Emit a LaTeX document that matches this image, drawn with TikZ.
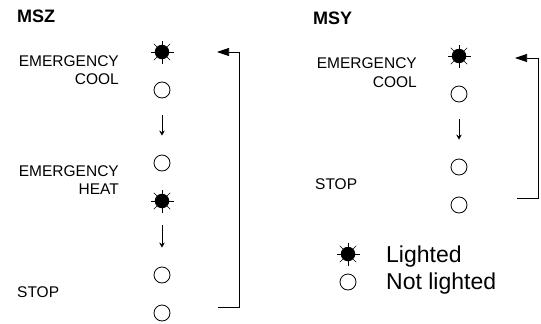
\documentclass[tikz,border=0pt]{standalone}
\usepackage{fontspec}
\setmainfont{Liberation Sans}
\usetikzlibrary{arrows.meta}
\tikzset{
  unlit/.style={circle,draw,line width=0.8pt,minimum size=16pt,inner sep=0pt},
  lit/.style={circle,fill,minimum size=14.5pt,inner sep=0pt},
  label/.style={inner sep=0pt,font=\fontsize{15.5}{19}\selectfont},
  title/.style={inner sep=0pt,font=\fontsize{18}{22}\selectfont\bfseries},
  legend/.style={inner sep=0pt,font=\fontsize{23}{27}\selectfont},
  flowarrow/.style={-{Stealth[length=5pt,width=5.5pt]},line width=0.7pt,
    shorten <=17pt,shorten >=19pt},
  looparrow/.style={-{Triangle[length=12pt,width=8pt]},line width=0.7pt}
}
\begin{document}
\begin{tikzpicture}[x=1pt,y=-1pt]
      \useasboundingbox (0,0) rectangle (541,324);
      % MSZ
      \node[title,anchor=base west] (msz) at (17,22) {MSZ};
      \node[label,anchor=base east] (zemc) at (119,66) {EMERGENCY};
      \node[label,anchor=base east] (zcool) at (119,84) {COOL};
      \node[label,anchor=base east] (zemh) at (119,176) {EMERGENCY};
      \node[label,anchor=base east] (zheat) at (119,194) {HEAT};
      \node[label,anchor=base west] (zstop) at (17,297) {STOP};
      \draw
        (162,52) node[lit] (z1){}
        (162,90) node[unlit] (z2){}
        (162,163) node[unlit] (z3){}
        (162,201) node[lit] (z4){}
        (162,275) node[unlit] (z5){}
        (162,313) node[unlit] (z6){};
      \draw[flowarrow] (z2) -- (z3);
      \draw[flowarrow] (z4) -- (z5);
      \coordinate (zb) at (218,307);
      \coordinate (zbr) at (239,307);
      \coordinate (ztr) at (239,52);
      \coordinate (zt) at (217,52);
      \draw[looparrow] (zb) -- (zbr) -- (ztr) -- (zt);
      % MSY
      \node[title,anchor=base west] (msy) at (313,24) {MSY};
      \node[label,anchor=base east] (yemc) at (417,68) {EMERGENCY};
      \node[label,anchor=base east] (ycool) at (417,87) {COOL};
      \node[label,anchor=base west] (ystop) at (315,189) {STOP};
      \draw
        (459,56) node[lit] (y1){}
        (459,94) node[unlit] (y2){}
        (459,167) node[unlit] (y3){}
        (459,205) node[unlit] (y4){};
      \draw[flowarrow] (y2) -- (y3);
      \coordinate (yb) at (517,198);
      \coordinate (ybr) at (538,198);
      \coordinate (ytr) at (538,58);
      \coordinate (yt) at (515,58);
      \draw[looparrow] (yb) -- (ybr) -- (ytr) -- (yt);
      % legend
      \draw
        (348,254) node[lit] (leglit){}
        (348,282) node[unlit] (legunlit){};
      \node[legend,anchor=base west] (leglittext) at (386,262) {Lighted};
      \node[legend,anchor=base west] (legunlittext) at (386,289) {Not lighted};
      % rays
      \foreach \n in {z1,z4,y1,leglit}
        \foreach \a in {0,45,...,315}
          \draw[line width=0.6pt] ([shift={(\a:6)}]\n.center) -- ([shift={(\a:11.5)}]\n.center);
    \end{tikzpicture}
\end{document}
